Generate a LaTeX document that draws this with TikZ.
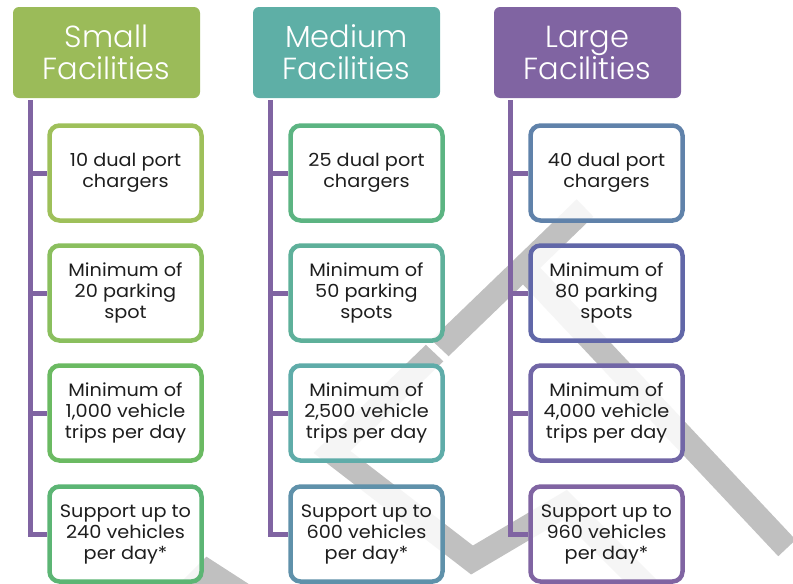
\documentclass[tikz,border=0pt]{standalone}
\usepackage{fontspec}
\setmainfont{Poppins}[FakeStretch=1.07]
\newfontfamily\hdrfont{Poppins}[UprightFont={* Light}]
\definecolor{cS}{HTML}{9BBB59}
\definecolor{cM}{HTML}{5EAFA6}
\definecolor{cL}{HTML}{8064A2}
\definecolor{wm}{RGB}{192,192,192}
\definecolor{txt}{HTML}{1E1E1E}
\definecolor{s1}{HTML}{9EC05A}
\definecolor{s2}{HTML}{8ABF5E}
\definecolor{s3}{HTML}{6BBA62}
\definecolor{s4}{HTML}{5CB574}
\definecolor{m1}{HTML}{5CB482}
\definecolor{m2}{HTML}{5EB09A}
\definecolor{m3}{HTML}{5FACA9}
\definecolor{m4}{HTML}{5F91AA}
\definecolor{l1}{HTML}{6082AA}
\definecolor{l2}{HTML}{6167A8}
\definecolor{l3}{HTML}{7166A6}
\definecolor{l4}{HTML}{8064A2}
\tikzset{
  hdr/.style={rounded corners=6pt, minimum width=187pt, minimum height=91pt, inner sep=0pt,
    text=white, font=\hdrfont\fontsize{30.5}{32}\selectfont, align=center},
  itembox/.style={draw, line width=4.5pt, fill=white, fill opacity=0.85, text opacity=1,
    rounded corners=10pt, minimum width=152pt, minimum height=95pt, inner sep=0pt,
    align=center, font=\fontsize{18}{21}\selectfont, text=txt},
  vline/.style={draw=cL, line width=5pt},
  wmark/.style={draw=wm, line width=24pt, line join=miter},
  wgap/.style={draw=white, line width=7pt}
}
\begin{document}
\begin{tikzpicture}[x=1pt,y=-1pt]
\useasboundingbox (0,0) rectangle (793,584);
% watermark
\draw[wmark] (585,208) -- (332,452) -- (472,560) -- (565,505) -- (660,600);
\draw[wmark] (524,268) -- (787,548);
\draw[wmark] (160,620) -- (208,572) -- (270,612);
\draw[wgap] (424,338) -- (460,372);
% headers
\node[hdr, fill=cS] (hs) at (106.5,52.5) {Small\\Facilities};
\node[hdr, fill=cM] (hm) at (346.5,52.5) {Medium\\Facilities};
\node[hdr, fill=cL] (hl) at (587.5,52.5) {Large\\Facilities};
% boxes
\node[itembox, draw=s1] (s1) at (125.5,173) {10 dual port\\chargers};
\node[itembox, draw=s2] (s2) at (125.5,293) {Minimum of\\20 parking\\spot};
\node[itembox, draw=s3] (s3) at (125.5,413) {Minimum of\\1,000 vehicle\\trips per day};
\node[itembox, draw=s4] (s4) at (125.5,534) {Support up to\\240 vehicles\\per day*};
\node[itembox, draw=m1] (m1) at (366.5,173) {25 dual port\\chargers};
\node[itembox, draw=m2] (m2) at (366.5,293) {Minimum of\\50 parking\\spots};
\node[itembox, draw=m3] (m3) at (366.5,413) {Minimum of\\2,500 vehicle\\trips per day};
\node[itembox, draw=m4] (m4) at (366.5,534) {Support up to\\600 vehicles\\per day*};
\node[itembox, draw=l1] (l1) at (606.5,173) {40 dual port\\chargers};
\node[itembox, draw=l2] (l2) at (606.5,293) {Minimum of\\80 parking\\spots};
\node[itembox, draw=l3] (l3) at (606.5,413) {Minimum of\\4,000 vehicle\\trips per day};
\node[itembox, draw=l4] (l4) at (606.5,534) {Support up to\\960 vehicles\\per day*};
% connector lines
\coordinate (sl) at (30,100);
\coordinate (ml) at (270.5,100);
\coordinate (ll) at (510.5,100);
\foreach \c/\p in {sl/s, ml/m, ll/l}{
  \draw[vline] (\c) |- (\p4.west);
  \draw[vline] (\p1.west -| \c) -- (\p1.west);
  \draw[vline] (\p2.west -| \c) -- (\p2.west);
  \draw[vline] (\p3.west -| \c) -- (\p3.west);
}
\end{tikzpicture}
\end{document}
